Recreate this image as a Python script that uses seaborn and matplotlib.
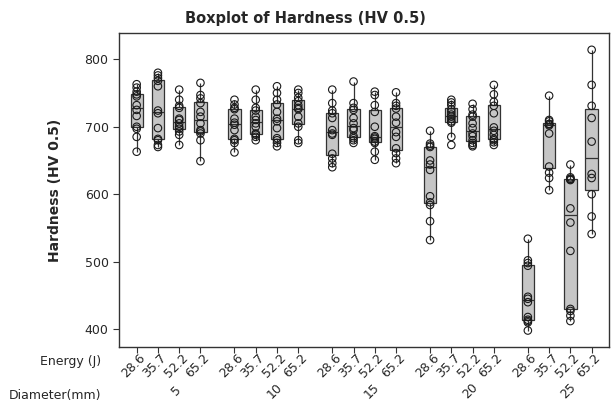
import numpy as np
import pandas as pd
import seaborn as sns
import matplotlib.pyplot as plt
from matplotlib.transforms import ScaledTranslation, blended_transform_factory

# Data
diameters = [5, 10, 15, 20, 25]
energies = ["28.6", "35.7", "52.2", "65.2"]

hv_d5 = [
    [763, 758, 752, 748, 745, 732, 725, 716, 700, 697, 685, 663],
    [780, 776, 772, 768, 760, 724, 720, 698, 682, 680, 673, 670],
    [755, 740, 731, 728, 712, 710, 705, 700, 697, 693, 688, 673],
    [765, 747, 742, 735, 722, 715, 705, 695, 693, 690, 680, 649],
]
hv_d10 = [
    [740, 733, 728, 726, 712, 706, 703, 695, 682, 680, 676, 662],
    [755, 740, 728, 724, 715, 710, 705, 700, 690, 688, 685, 680],
    [760, 750, 740, 733, 722, 712, 708, 698, 683, 680, 676, 671],
    [755, 750, 743, 738, 732, 728, 726, 715, 705, 700, 680, 676],
]
hv_d15 = [
    [755, 735, 724, 720, 713, 695, 690, 688, 660, 653, 646, 640],
    [767, 735, 728, 725, 713, 705, 698, 695, 686, 683, 680, 676],
    [752, 747, 732, 722, 700, 686, 684, 682, 678, 676, 663, 651],
    [751, 735, 731, 727, 715, 706, 692, 685, 668, 661, 653, 646],
]
hv_d20 = [
    [694, 675, 672, 670, 650, 644, 636, 597, 588, 584, 560, 532],
    [740, 736, 732, 726, 722, 718, 715, 712, 708, 706, 685, 673],
    [734, 726, 718, 715, 705, 698, 690, 686, 680, 676, 673, 671],
    [762, 748, 737, 731, 720, 699, 694, 688, 682, 680, 677, 673],
]
hv_d25 = [
    [534, 502, 498, 494, 448, 445, 440, 418, 414, 412, 410, 398],
    [746, 710, 708, 704, 704, 704, 702, 690, 641, 632, 624, 606],
    [644, 625, 623, 622, 621, 579, 558, 516, 430, 427, 420, 412],
    [814, 762, 731, 713, 678, 630, 624, 600, 567, 541],
]
hardness = [hv_d5, hv_d10, hv_d15, hv_d20, hv_d25]

# long table, with a gap between diameter groups like Minitab
group_step = 4.6
rows = []
for gi, d in enumerate(diameters):
    for ei, e in enumerate(energies):
        for v in hardness[gi][ei]:
            rows.append({"diameter": d, "energy": e, "pos": gi * group_step + ei, "hv": v})
df = pd.DataFrame(rows)

sns.set_style("white")
plt.rcParams["font.family"] = ["DejaVu Sans"]

fig = plt.figure(figsize=(6.11, 4.04), dpi=100)
ax = fig.add_axes([0.1948, 0.1418, 0.8024, 0.7758])

sns.boxplot(data=df, x="pos", y="hv", native_scale=True, orient="x", width=0.58,
            color="#c6c6c6", saturation=1, linecolor="#333333", linewidth=0.9,
            whis=1.5, showfliers=False, showcaps=False, ax=ax)
sns.stripplot(data=df, x="pos", y="hv", native_scale=True, orient="x", jitter=False,
              size=5.4, color="none", edgecolor="#1a1a1a", linewidth=0.8, ax=ax, zorder=3)
for c in ax.collections:
    c.set_facecolor("none")

ax.set_xlim(-0.83, 4 * group_step + 3 + 0.83)
ax.set_ylim(374, 838.5)
ax.set_yticks([400, 500, 600, 700, 800])

# energy tick labels
positions = sorted(df["pos"].unique())
ax.set_xticks(positions)
ax.set_xticklabels(energies * len(diameters))
ax.tick_params(axis="x", direction="out", length=4, width=0.8, pad=10, labelsize=9,
               color="#333333", bottom=True)
ax.tick_params(axis="y", direction="out", length=4, width=0.8, labelsize=9,
               color="#333333", left=True)
for lbl in ax.get_xticklabels():
    lbl.set_rotation(45)
    lbl.set_ha("center")
    lbl.set_va("center")
    lbl.set_transform(lbl.get_transform() + ScaledTranslation(-3 / 100, 0, fig.dpi_scale_trans))

# diameter labels at group centres
trans = blended_transform_factory(ax.transData, ax.transAxes)
for gi, d in enumerate(diameters):
    xc = gi * group_step + 1.5 + 0.38
    ax.text(xc, -0.141, str(d), rotation=45, ha="center", va="center",
            fontsize=9, transform=trans)

fig.text(101 / 611, 1 - 362 / 404, "Energy (J)", ha="right", va="center", fontsize=9)
fig.text(101 / 611, 1 - 396 / 404, "Diameter(mm)", ha="right", va="center", fontsize=9)

ax.set_xlabel("")
ax.set_ylabel("Hardness (HV 0.5)", fontsize=10, fontweight="bold")
ax.yaxis.set_label_coords(-0.116, 0.5)
fig.suptitle("Boxplot of Hardness (HV 0.5)", fontsize=10.5, fontweight="bold", y=1 - 18 / 404, va="center")

for s in ax.spines.values():
    s.set_color("#333333")
    s.set_linewidth(1)

fig.savefig("out.png", dpi=100)
